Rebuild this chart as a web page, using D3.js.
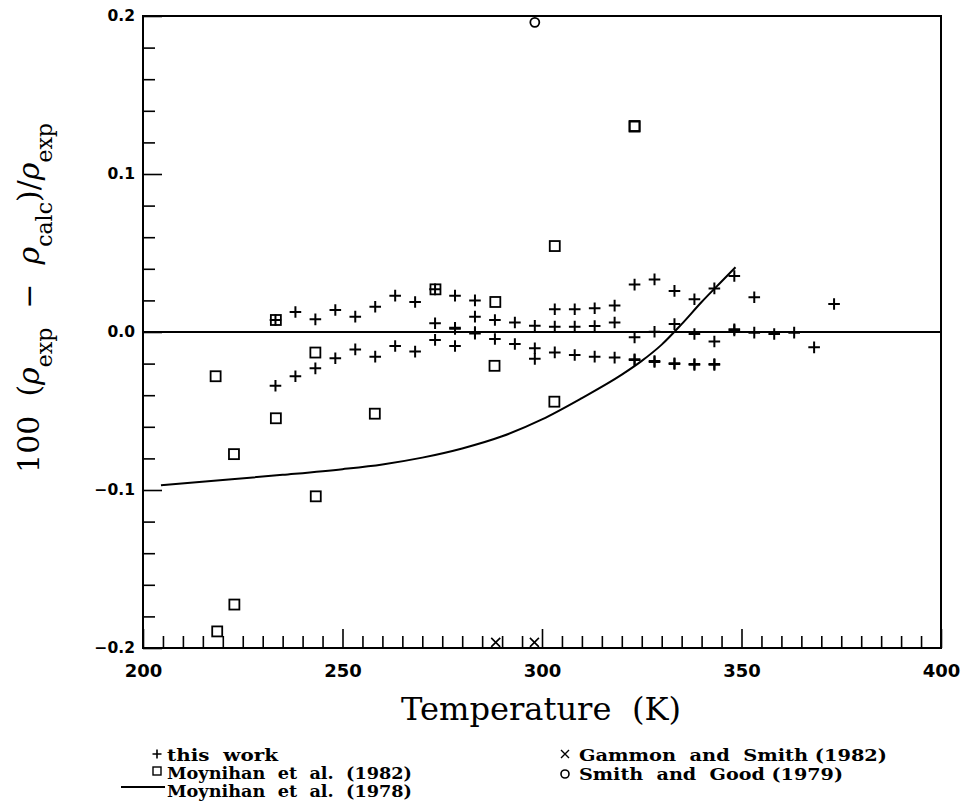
<!DOCTYPE html>
<html><head><meta charset="utf-8">
<script src="https://cdn.jsdelivr.net/npm/d3@7"></script>
<style>body{margin:0;background:#fff}svg{display:block}text{white-space:pre}</style>
</head><body>
<svg id="c" width="964" height="812"></svg>
<script>
// ---- data ----
const thisWorkT = [233.2,238.2,243.2,248.2,253.2,258.2,263.2,268.2,273.2,278.2,283.2,
  273.2,278.2,278.2,283.2,283.2,
  233.2,238.2,243.2,248.2,253.2,258.2,263.2,268.2,273.2,278.2,283.2,288.2,288.2,293.2,293.2,298.2,298.2,298.2,
  303.2,308.2,313.2,318.2,323.2,328.2,333.2,338.2,343.2,348.2,353.2,373.2,
  303.2,308.2,313.2,318.2,323.2,328.2,333.2,338.2,343.2,348.2,348.2,353.2,358.2,363.2,368.2,
  303.2,308.2,313.2,318.2,323.2,323.2,328.2,328.2,333.2,333.2,338.2,338.2,343.2,343.2];
const thisWorkDev = [0.0076,0.0127,0.0080,0.0139,0.0097,0.0160,0.0230,0.0190,0.0270,0.0230,0.0200,
  0.0055,0.0027,0.0020,0.0000,-0.0010,
  -0.0340,-0.0280,-0.0230,-0.0166,-0.0110,-0.0156,-0.0089,-0.0124,-0.0050,-0.0089,0.0097,0.0076,-0.0044,0.0060,-0.0076,0.0040,-0.0103,-0.0170,
  0.0144,0.0144,0.0150,0.0167,0.0300,0.0333,0.0260,0.0207,0.0276,0.0354,0.0220,0.0177,
  0.0034,0.0034,0.0038,0.0060,-0.0034,0.0002,0.0050,-0.0013,-0.0060,0.0017,0.0010,-0.0004,-0.0013,-0.0004,-0.0097,
  -0.0129,-0.0146,-0.0156,-0.0162,-0.0173,-0.0178,-0.0184,-0.0190,-0.0198,-0.0203,-0.0203,-0.0208,-0.0203,-0.0208];

const moy82T = [218.2,218.6,222.8,222.9,233.3,233.3,243.2,243.3,258.1,273.3,288.3,288.1,303.2,303.1,323.2,323.2];
const moy82Dev = [-0.028,-0.1895,-0.0773,-0.1725,0.0076,-0.0546,-0.0130,-0.1040,-0.0517,0.0270,0.0190,-0.0214,0.0544,-0.0441,0.1304,0.1300];

const moy78T = [204.5,220,235,250,260,270,280,290,300,310,320,325,330,335,340,345,348.5];
const moy78Dev = [-0.0970,-0.0937,-0.0904,-0.0868,-0.0838,-0.0795,-0.0737,-0.0660,-0.0553,-0.0418,-0.0270,-0.0183,-0.0080,0.0050,0.0190,0.0320,0.0410];

const gammonT = [288.4,298.1];
const gammonDev = [-0.1964,-0.1964];

const smithT = [298.2];
const smithDev = [0.196];

const xMajorTicks = [200,250,300,350,400];
const yMajorTicks = [-0.2,-0.1,0.0,0.1,0.2];
const yTickLabels = ["\u22120.2","\u22120.1","0.0","0.1","0.2"];

// ---- scales ----
const svg = d3.select("#c");
const x = d3.scaleLinear().domain([200,400]).range([143,941]);
const y = d3.scaleLinear().domain([-0.2,0.2]).range([648,16]);

const xMinor = d3.range(205,400,5).filter(v=>v%50!==0);
const yMinor = d3.range(-0.18,0.2,0.02).map(v=>+v.toFixed(2)).filter(v=>Math.abs(Math.round(v*10)-v*10)>1e-6);

// axes
const gx = svg.append("g").attr("transform","translate(0,648)");
gx.call(d3.axisBottom(x).tickValues(xMinor).tickSize(-12).tickFormat(""));
gx.append("g").call(d3.axisBottom(x).tickValues(xMajorTicks).tickSize(-19).tickPadding(16).tickFormat(d3.format("d")));
gx.selectAll(".domain").remove();
gx.selectAll("line").attr("stroke","#000").attr("stroke-width",1.6);
gx.selectAll("text").attr("font-family","DejaVu Sans").attr("font-weight","bold").attr("font-size",18).attr("fill","#000");

const gy = svg.append("g").attr("transform","translate(143,0)");
gy.call(d3.axisLeft(y).tickValues(yMinor).tickSize(-12).tickFormat(""));
gy.append("g").call(d3.axisLeft(y).tickValues(yMajorTicks).tickSize(-19).tickPadding(8).tickFormat((d,i)=>yTickLabels[i]));
gy.selectAll(".domain").remove();
gy.selectAll("line").attr("stroke","#000").attr("stroke-width",1.6);
gy.selectAll("text").attr("font-family","DejaVu Sans").attr("font-weight","bold").attr("font-size",15.5).attr("fill","#000");

// frame
svg.append("rect").attr("x",x(200)).attr("y",y(0.2)).attr("width",x(400)-x(200)).attr("height",y(-0.2)-y(0.2))
  .attr("fill","none").attr("stroke","#000").attr("stroke-width",2);
// zero line
svg.append("line").attr("x1",x(200)).attr("x2",x(400)).attr("y1",y(0)).attr("y2",y(0)).attr("stroke","#000").attr("stroke-width",2);

// curve
const line = d3.line().x((d,i)=>x(moy78T[i])).y((d,i)=>y(moy78Dev[i])).curve(d3.curveMonotoneX);
svg.append("path").attr("d",line(moy78T)).attr("fill","none").attr("stroke","#000").attr("stroke-width",2);

// marker path helpers
const plusPath = s => `M${-s},0H${s}M0,${-s}V${s}`;
const xPath = s => `M${-s},${-s}L${s},${s}M${-s},${s}L${s},${-s}`;

const pts = svg.append("g");
pts.selectAll(".sq").data(moy82T).join("rect").attr("class","sq")
  .attr("x",(d,i)=>x(d)-5).attr("y",(d,i)=>y(moy82Dev[i])-5).attr("width",10).attr("height",10)
  .attr("fill","none").attr("stroke","#000").attr("stroke-width",1.8);
pts.selectAll(".pl").data(thisWorkT).join("path").attr("class","pl")
  .attr("transform",(d,i)=>`translate(${x(d)},${y(thisWorkDev[i])})`).attr("d",plusPath(5.8))
  .attr("fill","none").attr("stroke","#000").attr("stroke-width",2);
pts.selectAll(".xm").data(gammonT).join("path").attr("class","xm")
  .attr("transform",(d,i)=>`translate(${x(d)},${y(gammonDev[i])})`).attr("d",xPath(4.5))
  .attr("fill","none").attr("stroke","#000").attr("stroke-width",1.6);
pts.selectAll(".ci").data(smithT).join("circle").attr("class","ci")
  .attr("cx",d=>x(d)).attr("cy",(d,i)=>y(smithDev[i])).attr("r",4.5)
  .attr("fill","none").attr("stroke","#000").attr("stroke-width",1.8);

// axis titles
svg.append("text").attr("x",541).attr("y",720).attr("text-anchor","middle")
  .attr("font-family","DejaVu Serif").attr("font-size",31).attr("fill","#000")
  .attr("textLength",280).attr("lengthAdjust","spacingAndGlyphs")
  .text("Temperature\u00a0\u00a0(K)");

const yl = svg.append("text").attr("transform","translate(39,298) rotate(-90)").attr("text-anchor","middle")
  .attr("font-family","DejaVu Serif").attr("font-size",30).attr("fill","#000");
yl.append("tspan").text("100\u00a0\u00a0(");
yl.append("tspan").attr("font-style","italic").text("\u03c1");
yl.append("tspan").attr("font-size",22).attr("dy",13).text("exp");
yl.append("tspan").attr("dy",-13).text("\u00a0\u00a0\u2212\u00a0\u00a0");
yl.append("tspan").attr("font-style","italic").text("\u03c1");
yl.append("tspan").attr("font-size",22).attr("dy",13).text("calc");
yl.append("tspan").attr("dy",-13).text(")/");
yl.append("tspan").attr("font-style","italic").text("\u03c1");
yl.append("tspan").attr("font-size",22).attr("dy",13).text("exp");

// legend
const leg = svg.append("g").attr("font-family","DejaVu Serif").attr("font-weight","bold").attr("font-size",16.5).attr("fill","#000");
const legItems = [
  {sym:"plus", sx:157, sy:754, tx:167, ty:761, w:111, label:"this\u00a0\u00a0work"},
  {sym:"square", sx:157, sy:771, tx:167, ty:779, w:245, label:"Moynihan\u00a0\u00a0et\u00a0\u00a0al.\u00a0\u00a0(1982)"},
  {sym:"line", sx:143, sy:787, tx:167, ty:797, w:245, label:"Moynihan\u00a0\u00a0et\u00a0\u00a0al.\u00a0\u00a0(1978)"},
  {sym:"x", sx:565, sy:754, tx:579, ty:761, w:308, label:"Gammon\u00a0\u00a0and\u00a0\u00a0Smith\u00a0(1982)"},
  {sym:"circle", sx:565, sy:774, tx:579, ty:780, w:264, label:"Smith\u00a0\u00a0and\u00a0\u00a0Good\u00a0(1979)"}
];
legItems.forEach(it=>{
  const g = leg.append("g");
  if(it.sym==="plus") g.append("path").attr("transform",`translate(${it.sx},${it.sy})`).attr("d",plusPath(4.5)).attr("stroke","#000").attr("stroke-width",1.6).attr("fill","none");
  if(it.sym==="square") g.append("rect").attr("x",it.sx-4).attr("y",it.sy-4).attr("width",8).attr("height",8).attr("stroke","#000").attr("stroke-width",1.4).attr("fill","none");
  if(it.sym==="line") g.append("line").attr("x1",121).attr("x2",165).attr("y1",it.sy).attr("y2",it.sy).attr("stroke","#000").attr("stroke-width",1.8);
  if(it.sym==="x") g.append("path").attr("transform",`translate(${it.sx},${it.sy})`).attr("d",xPath(4)).attr("stroke","#000").attr("stroke-width",1.4).attr("fill","none");
  if(it.sym==="circle") g.append("circle").attr("cx",it.sx).attr("cy",it.sy).attr("r",4).attr("stroke","#000").attr("stroke-width",1.6).attr("fill","none");
  g.append("text").attr("x",it.tx).attr("y",it.ty).attr("textLength",it.w).attr("lengthAdjust","spacingAndGlyphs").text(it.label);
});
</script>
</body></html>
